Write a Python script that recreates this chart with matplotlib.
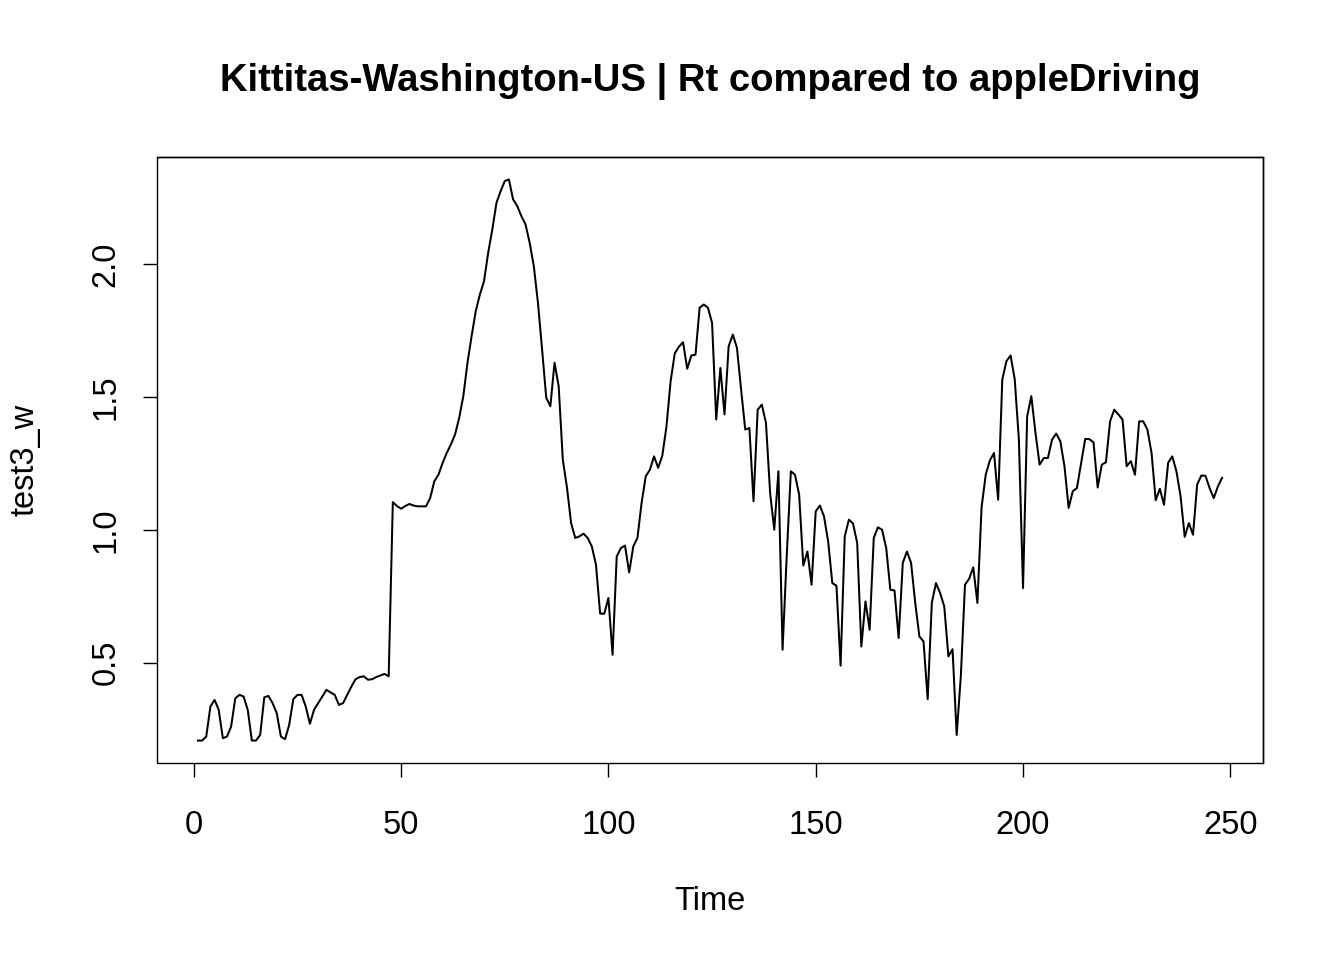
import numpy as np
import matplotlib.pyplot as plt

plt.rcParams['font.family'] = ['Liberation Sans', 'DejaVu Sans']

title = "Kittitas-Washington-US | Rt compared to appleDriving"
x_label = "Time"
y_label = "test3_w"

# Rt series (time 1..248)
test3_w = [
    0.207, 0.207, 0.222, 0.335, 0.360, 0.323, 0.216, 0.222, 0.260, 0.366,
    0.379, 0.373, 0.323, 0.207, 0.207, 0.228, 0.370, 0.375, 0.348, 0.310,
    0.222, 0.212, 0.266, 0.363, 0.379, 0.379, 0.335, 0.270, 0.323, 0.348,
    0.373, 0.398, 0.388, 0.379, 0.341, 0.348, 0.379, 0.410, 0.438, 0.446,
    0.449, 0.436, 0.438, 0.446, 0.452, 0.458, 0.449, 1.105, 1.090, 1.080,
    1.090, 1.098, 1.092, 1.089, 1.089, 1.089, 1.120, 1.183, 1.208, 1.252,
    1.290, 1.322, 1.359, 1.422, 1.504, 1.629, 1.730, 1.824, 1.887, 1.937,
    2.044, 2.132, 2.232, 2.276, 2.314, 2.320, 2.245, 2.220, 2.182, 2.151,
    2.082, 1.994, 1.856, 1.680, 1.498, 1.466, 1.630, 1.541, 1.265, 1.160,
    1.026, 0.970, 0.976, 0.986, 0.970, 0.938, 0.869, 0.685, 0.685, 0.744,
    0.530, 0.900, 0.932, 0.941, 0.840, 0.938, 0.970, 1.102, 1.202, 1.227,
    1.277, 1.234, 1.280, 1.390, 1.560, 1.665, 1.690, 1.707, 1.607, 1.657,
    1.660, 1.837, 1.849, 1.837, 1.780, 1.416, 1.610, 1.435, 1.692, 1.736,
    1.686, 1.529, 1.378, 1.384, 1.108, 1.453, 1.472, 1.403, 1.139, 1.001,
    1.221, 0.549, 0.900, 1.221, 1.208, 1.133, 0.866, 0.919, 0.794, 1.070,
    1.092, 1.051, 0.957, 0.800, 0.790, 0.489, 0.976, 1.039, 1.024, 0.951,
    0.561, 0.731, 0.624, 0.970, 1.010, 1.001, 0.932, 0.775, 0.772, 0.593,
    0.876, 0.919, 0.876, 0.725, 0.599, 0.580, 0.363, 0.725, 0.800, 0.763,
    0.712, 0.524, 0.551, 0.228, 0.450, 0.794, 0.816, 0.859, 0.725, 1.085,
    1.208, 1.262, 1.290, 1.114, 1.567, 1.636, 1.657, 1.567, 1.340, 0.781,
    1.428, 1.504, 1.366, 1.246, 1.271, 1.271, 1.340, 1.363, 1.334, 1.240,
    1.083, 1.146, 1.158, 1.250, 1.343, 1.342, 1.330, 1.160, 1.246, 1.255,
    1.409, 1.453, 1.435, 1.416, 1.240, 1.259, 1.208, 1.409, 1.409, 1.378,
    1.290, 1.112, 1.155, 1.095, 1.253, 1.277, 1.221, 1.127, 0.974, 1.026,
    0.982, 1.171, 1.205, 1.204, 1.158, 1.120, 1.164, 1.196,
]
x_ticks = [0, 50, 100, 150, 200, 250]
y_ticks = [0.5, 1.0, 1.5, 2.0]

y = np.array(test3_w)
t = np.arange(1, len(y) + 1)

fig = plt.figure(figsize=(13.44, 9.6), dpi=100)
ax = fig.add_axes([157 / 1344, 197 / 960, 1106 / 1344, 606 / 960])
ax.plot(t, y, color='black', lw=1.45)

# R style 4% padding on both axes
def pad(lo, hi):
    d = (hi - lo) * 0.04
    return lo - d, hi + d

ax.set_xlim(*pad(t.min(), t.max()))
ax.set_ylim(*pad(y.min(), y.max()))

ax.set_xticks(x_ticks)
ax.set_xticklabels([str(v) for v in x_ticks])
ax.set_yticks(y_ticks)
ax.set_yticklabels([f"{v:.1f}" for v in y_ticks], rotation=90, va='center')
ax.tick_params(direction='out', length=10.4, width=1.0, labelsize=23.5)
ax.tick_params(axis='x', pad=23.5)
ax.tick_params(axis='y', pad=15)

ax.spines['bottom'].set_visible(False)
ax.spines['left'].set_visible(False)
for s in ax.spines.values():
    s.set_linewidth(1.0)
ax.add_patch(plt.Rectangle((0, 0), 1, 1, transform=ax.transAxes, fill=False,
                           lw=1.0, color='black', clip_on=False))

fig.text(710 / 1344, 1 - 82 / 960, title, ha='center', va='center',
         fontsize=27.5, fontweight='bold')
fig.text(710 / 1344, 1 - 901 / 960, x_label, ha='center', va='center', fontsize=23.5)
fig.text(25 / 1344, 1 - 460 / 960, y_label, ha='center', va='center',
         rotation=90, fontsize=23.5)

fig.savefig('out.png', dpi=100)
